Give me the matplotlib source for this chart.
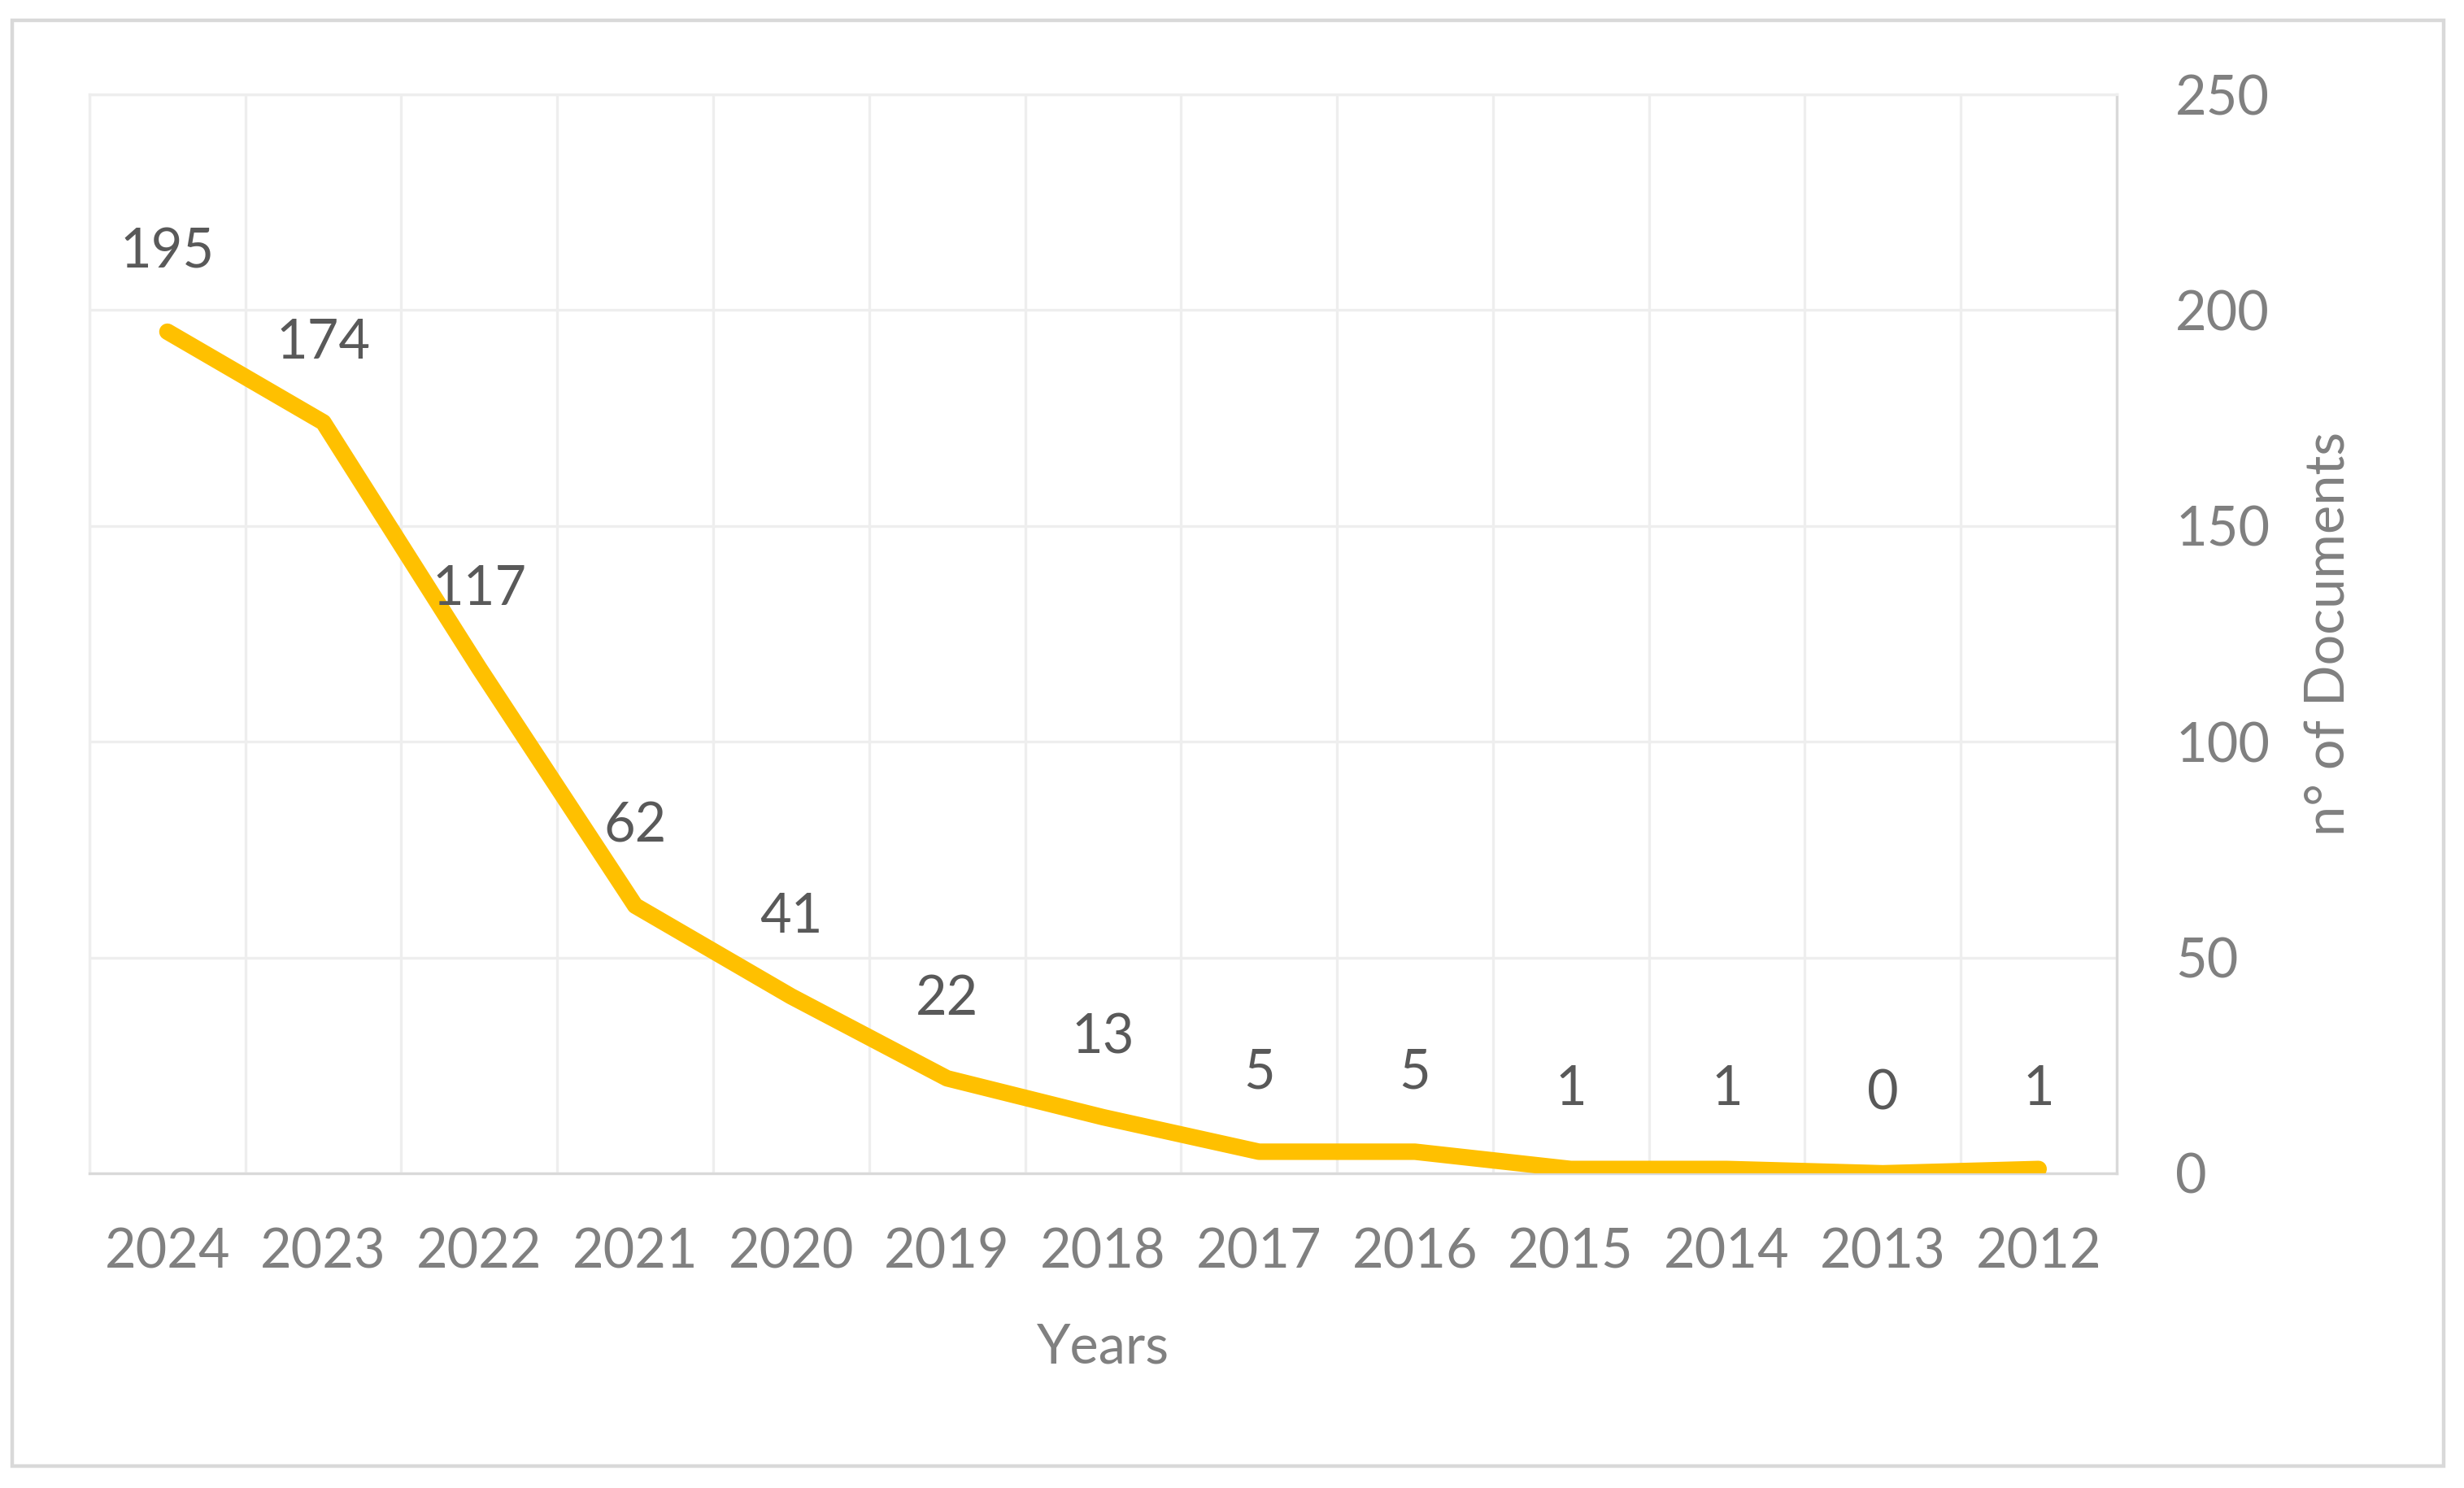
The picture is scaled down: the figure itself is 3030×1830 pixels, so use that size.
import matplotlib.pyplot as plt
from matplotlib.patches import Rectangle
import numpy as np

years = ['2024', '2023', '2022', '2021', '2020', '2019', '2018',
         '2017', '2016', '2015', '2014', '2013', '2012']
documents = [195, 174, 117, 62, 41, 22, 13, 5, 5, 1, 1, 0, 1]
y_ticks = [0, 50, 100, 150, 200, 250]

plt.rcParams['font.family'] = ['Lato', 'DejaVu Sans']

fig = plt.figure(figsize=(15.15, 9.15), dpi=200)
ax = fig.add_axes([0.0363, 0.2115, 0.859 - 0.0363, 0.9366 - 0.2115])

x = np.arange(len(years))
ax.plot(x, documents, color='#FFC000', linewidth=7.3, solid_capstyle='round',
        solid_joinstyle='round', zorder=3)

for xi, val in zip(x, documents):
    ax.annotate(str(val), (xi, val), xytext=(0, 35), textcoords='offset points',
                ha='center', va='center', fontsize=24, color='#595959')

ax.set_xlim(-0.5, len(years) - 0.5)
ax.set_ylim(0, 250)
ax.set_xticks(x)
ax.set_xticklabels(years)
ax.set_xticks(np.arange(-0.5, len(years), 1.0), minor=True)
ax.set_yticks(y_ticks)

ax.yaxis.tick_right()
ax.yaxis.set_label_position('right')
ax.tick_params(axis='both', which='both', length=0, labelsize=24, colors='#808080')
ax.tick_params(axis='x', pad=24)
ax.tick_params(axis='y', pad=26)

ax.grid(True, which='minor', axis='x', color='#eeeeee', linewidth=1.2)
ax.grid(True, which='major', axis='y', color='#eeeeee', linewidth=1.2)
ax.grid(False, which='major', axis='x')
ax.set_axisbelow(True)

for side in ['left', 'top']:
    ax.spines[side].set_color('#eeeeee')
    ax.spines[side].set_linewidth(1.2)
for side in ['bottom', 'right']:
    ax.spines[side].set_color('#d9d9d9')
    ax.spines[side].set_linewidth(1.2)

ax.set_xlabel('Years', fontsize=24, color='#808080', va='center')
ax.xaxis.set_label_coords(0.5, -0.162)
ax.set_ylabel('n° of Documents', fontsize=24, color='#808080', rotation=90, va='center')
ax.yaxis.set_label_coords(1.105, 0.5)

fig.patches.append(Rectangle((0.005, 0.0148), 0.9867, 0.9715, transform=fig.transFigure,
                             fill=False, edgecolor='#d9d9d9', linewidth=1.6))

fig.savefig('out.png', dpi=200, facecolor='white')
